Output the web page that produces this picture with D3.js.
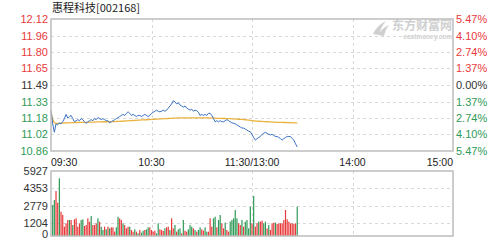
<!DOCTYPE html>
<html>
<head>
<meta charset="utf-8">
<script src="https://cdn.jsdelivr.net/npm/d3@7"></script>
<style>
  body { margin: 0; background: #fff; }
  svg { display: block; }
</style>
</head>
<body>
<div id="chart"></div>
<script>
const title = '惠程科技[002168]'
const prevClose = 11.49

const priceLabels = ['12.12', '11.96', '11.80', '11.65', '11.49', '11.33', '11.18', '11.02', '10.86']
const pctLabels = ['5.47%', '4.10%', '2.74%', '1.37%', '0.00%', '1.37%', '2.74%', '4.10%', '5.47%']
const pctTicks = [5.47, 4.10, 2.74, 1.37, 0, -1.37, -2.74, -4.10, -5.47]

const timeLabels = ['09:30', '10:30', '11:30/13:00', '14:00', '15:00']
const timeTicks = [0, 60, 120, 180, 240]

const volLabels = ['5927', '4353', '2779', '1204', '0']
const volTicks = [5927, 4353, 2779, 1204, 0]

// one price per minute from 09:30
const prices = [
  11.25, 11.12, 11.04, 11.12, 11.11, 11.13, 11.12, 11.14, 11.17, 11.21,
  11.175, 11.19, 11.20, 11.17, 11.14, 11.15, 11.16, 11.15, 11.17, 11.16,
  11.14, 11.125, 11.14, 11.15, 11.16, 11.15, 11.17, 11.16, 11.18, 11.17,
  11.16, 11.17, 11.16, 11.15, 11.15, 11.13, 11.14, 11.15, 11.16, 11.17,
  11.18, 11.19, 11.20, 11.21, 11.20, 11.22, 11.235, 11.22, 11.20, 11.21,
  11.20, 11.19, 11.20, 11.20, 11.19, 11.20, 11.21, 11.20, 11.19, 11.20,
  11.22, 11.23, 11.24, 11.25, 11.24, 11.235, 11.24, 11.25, 11.24, 11.25,
  11.27, 11.29, 11.31, 11.34, 11.33, 11.31, 11.32, 11.30, 11.29, 11.28,
  11.29, 11.27, 11.26, 11.25, 11.26, 11.24, 11.25, 11.245, 11.23, 11.20,
  11.21, 11.20, 11.21, 11.20, 11.22, 11.22, 11.20, 11.17, 11.14, 11.15,
  11.14, 11.15, 11.14, 11.14, 11.15, 11.16, 11.15, 11.14, 11.13, 11.125,
  11.12, 11.11, 11.10, 11.09, 11.08, 11.08, 11.07, 11.06, 11.05, 11.045,
  11.02, 10.99, 10.965, 10.98, 10.99, 11.00, 11.02, 11.03, 11.04, 11.03,
  11.02, 11.015, 11.02, 11.01, 11.00, 11.00, 10.99, 10.98, 10.965, 10.98,
  10.99, 11.00, 11.00, 11.00, 10.98, 10.965, 10.93, 10.90
]

const averages = [
  11.235, 11.16, 11.13, 11.125, 11.125, 11.125, 11.126, 11.127, 11.128, 11.13,
  11.13, 11.13, 11.131, 11.132, 11.132, 11.133, 11.133, 11.134, 11.134, 11.135,
  11.135, 11.135, 11.135, 11.136, 11.136, 11.137, 11.137, 11.138, 11.138, 11.139,
  11.139, 11.14, 11.14, 11.14, 11.14, 11.141, 11.141, 11.142, 11.142, 11.143,
  11.143, 11.144, 11.145, 11.146, 11.147, 11.148, 11.149, 11.15, 11.151, 11.152,
  11.153, 11.154, 11.155, 11.156, 11.157, 11.158, 11.158, 11.159, 11.16, 11.161,
  11.162, 11.163, 11.164, 11.165, 11.166, 11.167, 11.168, 11.169, 11.17, 11.17,
  11.171, 11.172, 11.173, 11.174, 11.175, 11.175, 11.176, 11.176, 11.176, 11.176,
  11.177, 11.177, 11.177, 11.177, 11.177, 11.177, 11.177, 11.177, 11.177, 11.177,
  11.177, 11.177, 11.176, 11.176, 11.176, 11.175, 11.175, 11.174, 11.174, 11.173,
  11.173, 11.172, 11.172, 11.171, 11.171, 11.17, 11.17, 11.169, 11.168, 11.167,
  11.166, 11.165, 11.164, 11.163, 11.162, 11.16, 11.159, 11.157, 11.155, 11.153,
  11.151, 11.149, 11.147, 11.146, 11.145, 11.144, 11.143, 11.142, 11.141, 11.14,
  11.139, 11.138, 11.137, 11.137, 11.136, 11.135, 11.135, 11.134, 11.134, 11.133,
  11.133, 11.132, 11.132, 11.131, 11.131, 11.13, 11.13, 11.13
]

// minute volumes, r = up, g = down
const volumes = [
  2830, 3280, 4100, 3040, 5260, 2220, 1920, 850, 1150, 1460,
  1460, 1460, 1000, 1520, 1610, 850, 1150, 1460, 1520, 910,
  1000, 1610, 1300, 1820, 1000, 1000, 1150, 1610, 1300, 850,
  550, 850, 610, 850, 700, 790, 790, 400, 790, 1760,
  1610, 1460, 1150, 1000, 700, 850, 850, 550, 395, 608,
  395, 243, 547, 304, 486, 547, 608, 790, 790, 547,
  395, 486, 243, 1155, 608, 547, 456, 699, 790, 851,
  547, 1612, 699, 1003, 395, 608, 699, 243, 1459, 486,
  395, 608, 1003, 851, 699, 547, 395, 547, 790, 608,
  486, 790, 395, 395, 1612, 851, 1612, 1763, 790, 1459,
  1915, 1155, 699, 1216, 547, 395, 1307, 1459, 1612, 2371,
  1612, 1155, 1003, 1459, 851, 1307, 1459, 699, 2675, 1155,
  3648, 851, 1155, 1307, 1307, 1400, 1155, 1307, 699, 1003,
  547, 1155, 1216, 1216, 1094, 1155, 1155, 1155, 1459, 2371,
  1520, 1307, 1155, 1155, 1094, 1155, 2675
]
const volDirs = (
  'ggrrgrrrrr' + 'grgrrrrggr' + 'rrrgrrrgrg' + 'grgrgrrrgg' + 'rrgrrrgrrg' +
  'rgrggrggrr' + 'rrggrrrgrr' + 'grrgrggrgr' + 'rgggrgrggr' + 'rggrrrggrg' +
  'grrgrrgggg' + 'grrgrggggr' + 'grrgrrggrg' + 'rrrgrrrrrr' + 'rrrrrrg'
).split('')

const colors = {
  up: '#e8393b',
  down: '#2f9a57',
  flat: '#333',
  price: '#3a72c4',
  avg: '#e9b23f',
  grid: '#d9d9d9',
  border: '#bdbdbd'
}

const width = 502
const height = 240
const left = 51
const right = 453
const main = { top: 19, bottom: 151 }
const vol = { top: 171, bottom: 236 }
const font = 'Liberation Sans, Arial, sans-serif'

const svg = d3.select('#chart')
  .append('svg')
  .attr('width', width)
  .attr('height', height)

svg.append('rect').attr('width', width).attr('height', height).attr('fill', '#fff')

const x = d3.scaleLinear().domain([0, 240]).range([left, right])
const yPct = d3.scaleLinear().domain([-5.47, 5.47]).range([main.bottom, main.top])
const y = d3.scaleLinear()
  .domain([prevClose * (1 - 0.0547), prevClose * (1 + 0.0547)])
  .range([main.bottom, main.top])
const yVol = d3.scaleLinear().domain([0, 5927]).range([vol.bottom, vol.top])

const labelColor = (v) => (v > 0 ? colors.up : v < 0 ? colors.down : colors.flat)

// title
svg.append('text')
  .attr('x', left + 1)
  .attr('y', 12)
  .attr('font-family', 'Noto Sans CJK SC, sans-serif')
  .attr('font-size', 11)
  .attr('fill', '#222')
  .text(title)

// watermark
const mark = svg.append('g').attr('fill', '#cfcfcf')
mark.append('path')
  .attr('d', 'M373,34 C376,28 380,24 386,21 C382,26 380,30 379,35 Z M378,35 C381,30 384,27 389,25 C386,29 385,32 384,36 Z')
mark.append('text')
  .attr('x', 452).attr('y', 30)
  .attr('text-anchor', 'end')
  .attr('font-family', 'Noto Sans CJK SC, sans-serif')
  .attr('font-size', 12).attr('font-weight', 'bold')
  .text('东方财富网')
mark.append('text')
  .attr('x', 452).attr('y', 39)
  .attr('text-anchor', 'end')
  .attr('font-family', font)
  .attr('font-size', 6.5).attr('font-weight', 'bold')
  .text('eastmoney.com')

// grids
const grid = svg.append('g')
  .attr('stroke', colors.grid)
  .attr('stroke-dasharray', '3,3')
  .attr('shape-rendering', 'crispEdges')

grid.selectAll('.hmain')
  .data(pctTicks.slice(1, -1))
  .join('line')
  .attr('x1', left).attr('x2', right)
  .attr('y1', (d) => Math.round(yPct(d)) + 0.5)
  .attr('y2', (d) => Math.round(yPct(d)) + 0.5)

grid.selectAll('.hvol')
  .data(volTicks.slice(1, -1))
  .join('line')
  .attr('x1', left).attr('x2', right)
  .attr('y1', (d) => Math.round(yVol(d)) + 0.5)
  .attr('y2', (d) => Math.round(yVol(d)) + 0.5)

for (const [t, b] of [[main.top, main.bottom], [vol.top, vol.bottom]]) {
  grid.append('g').selectAll('line')
    .data(timeTicks.slice(1, -1))
    .join('line')
    .attr('x1', (d) => Math.round(x(d)) + 0.5)
    .attr('x2', (d) => Math.round(x(d)) + 0.5)
    .attr('y1', t).attr('y2', b)
}

// volume bars
svg.append('g')
  .selectAll('rect')
  .data(volumes)
  .join('rect')
  .attr('x', (d, i) => x(i + 1) - 0.6)
  .attr('width', 1.2)
  .attr('y', (d) => yVol(d))
  .attr('height', (d) => yVol(0) - yVol(d))
  .attr('fill', (d, i) => (volDirs[i] === 'r' ? colors.up : colors.down))

// price + average lines
const line = d3.line()
  .x((d, i) => x(i))
  .y((d) => y(d))

svg.append('path')
  .datum(averages)
  .attr('fill', 'none')
  .attr('stroke', colors.avg)
  .attr('stroke-width', 1.3)
  .attr('d', line)

svg.append('path')
  .datum(prices)
  .attr('fill', 'none')
  .attr('stroke', colors.price)
  .attr('stroke-width', 1)
  .attr('d', line)

// frames
for (const [t, b] of [[main.top, main.bottom], [vol.top, vol.bottom]]) {
  svg.append('rect')
    .attr('x', left).attr('y', t)
    .attr('width', right - left).attr('height', b - t)
    .attr('fill', 'none')
    .attr('stroke', colors.border)
    .attr('stroke-width', 1.5)
}

// left price labels
svg.append('g')
  .selectAll('text')
  .data(pctTicks)
  .join('text')
  .attr('x', left - 3)
  .attr('y', (d) => yPct(d) + 4)
  .attr('text-anchor', 'end')
  .attr('font-family', font)
  .attr('font-size', 11)
  .attr('fill', labelColor)
  .text((d, i) => priceLabels[i])

// right pct labels
svg.append('g')
  .selectAll('text')
  .data(pctTicks)
  .join('text')
  .attr('x', right + 3)
  .attr('y', (d) => yPct(d) + 4)
  .attr('font-family', font)
  .attr('font-size', 11)
  .attr('fill', labelColor)
  .text((d, i) => pctLabels[i])

// time labels
svg.append('g')
  .selectAll('text')
  .data(timeTicks)
  .join('text')
  .attr('x', (d) => x(d))
  .attr('y', 166)
  .attr('text-anchor', (d, i) => (i === 0 ? 'start' : i === timeTicks.length - 1 ? 'end' : 'middle'))
  .attr('font-family', font)
  .attr('font-size', 10.5)
  .attr('fill', '#222')
  .text((d, i) => timeLabels[i])

// volume labels
svg.append('g')
  .selectAll('text')
  .data(volTicks)
  .join('text')
  .attr('x', left - 3)
  .attr('y', (d) => Math.min(yVol(d) + 4, height - 2))
  .attr('text-anchor', 'end')
  .attr('font-family', font)
  .attr('font-size', 11)
  .attr('fill', '#333')
  .text((d, i) => volLabels[i])
</script>
</body>
</html>
